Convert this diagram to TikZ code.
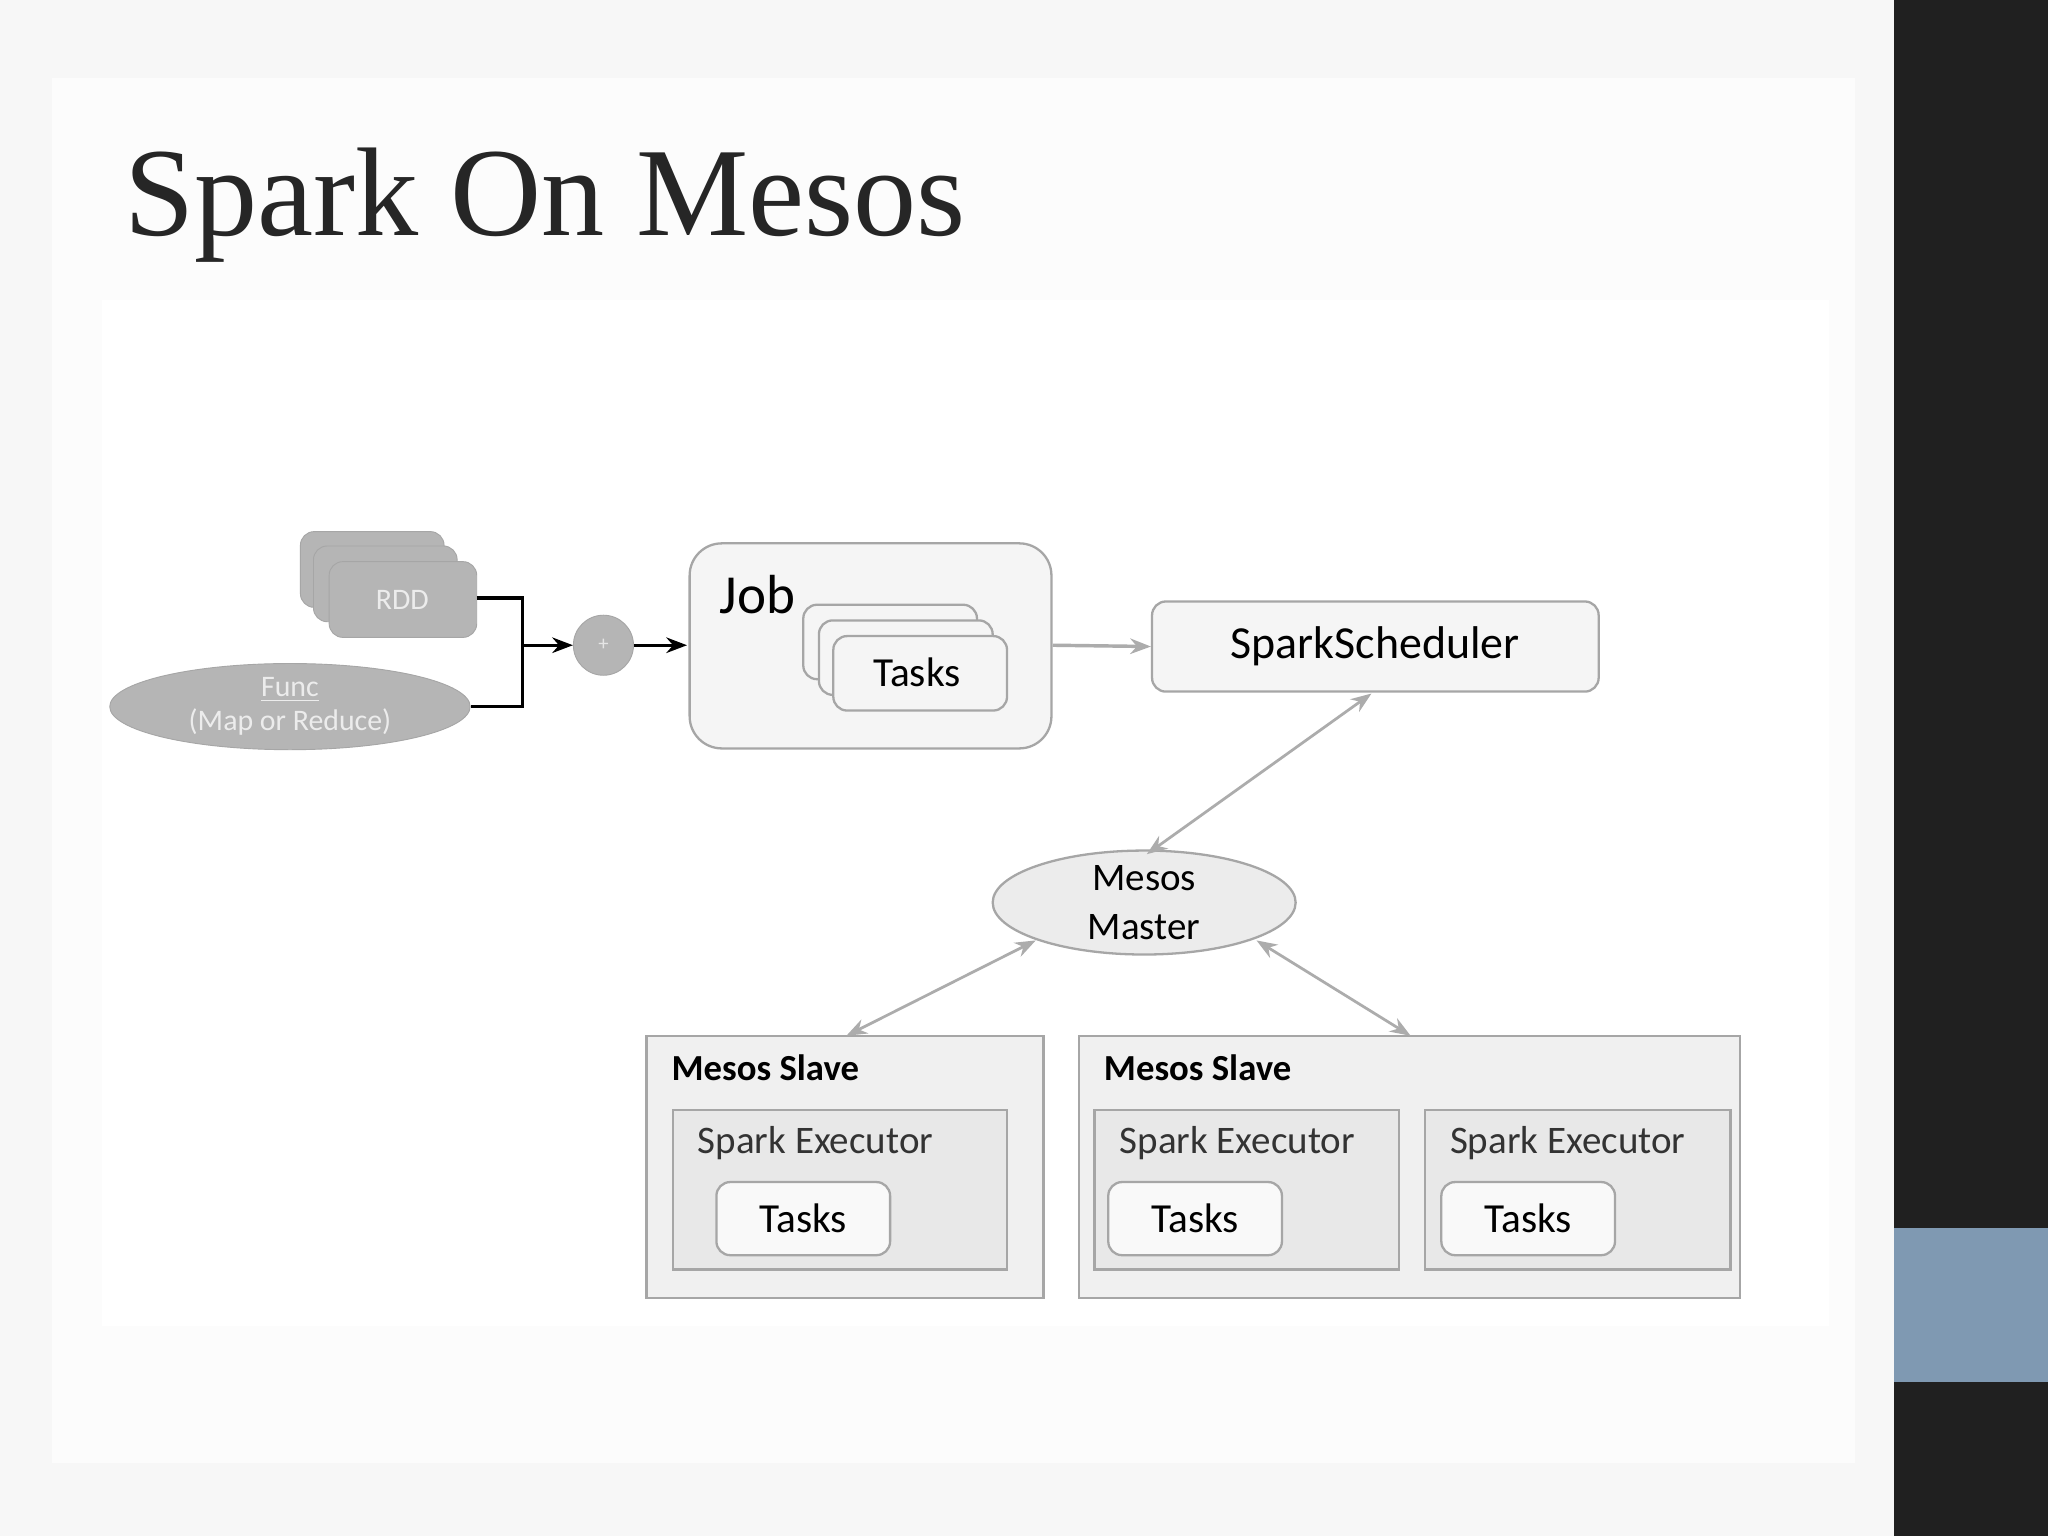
\documentclass[tikz,border=0pt]{standalone}
\usepackage{fontspec}
\setmainfont{Carlito}
\newfontfamily\titlefont{Liberation Serif}
\usetikzlibrary{shapes.geometric,arrows.meta}
\definecolor{bar}{HTML}{202020}
\definecolor{blu}{HTML}{7F99B2}
\tikzset{
  x=0.02cm,y=-0.02cm,
  box/.style={draw=gray!70,fill=gray!12,line width=1pt},
  rbox/.style={draw=gray!70,fill=gray!8,rounded corners=6pt,line width=1pt},
  dark/.style={draw=gray!70,fill=gray!58,rounded corners=6pt},
  garrow/.style={draw=gray!65,line width=1.5pt,-{Stealth[length=9pt]}},
  gdarrow/.style={draw=gray!65,line width=1.2pt,{Stealth[length=9pt]}-{Stealth[length=9pt]}},
  karrow/.style={draw=black,line width=1.5pt,-{Stealth[length=9pt]}},
}
\begin{document}
\begin{tikzpicture}
\useasboundingbox (0,0) rectangle (1568,1176);
\fill[gray!6] (0,0) rectangle (1450,1176);
\fill[gray!2] (40,60) rectangle (1420,1120);
\fill[white] (78,230) rectangle (1400,1015);
\fill[bar] (1450,0) rectangle (1568,1176);
\fill[blu] (1450,940) rectangle (1568,1058);
\node[anchor=base west,inner sep=0,font=\titlefont\fontsize{55}{60}\selectfont,text=black!85] (title) at (95,180) {Spark On Mesos};
% RDD
\draw[dark] (230,407) rectangle (340,465);
\draw[dark] (240,418) rectangle (350,476);
\draw[dark] (252,430) rectangle (365,488);
\node[font=\fontsize{13}{14}\selectfont,text=gray!15] (rdd) at (308,459) {RDD};
\coordinate (rddr) at (365,458);
\node[ellipse,draw=gray!70,fill=gray!58,inner sep=0,
  minimum width=5.52cm,minimum height=1.32cm,align=center,font=\fontsize{13}{15}\selectfont,text=gray!15] (func) at (222,541) {\underline{Func}\\(Map or Reduce)};
\node[circle,draw=gray!70,fill=gray!58,minimum size=0.92cm,inner sep=0,text=gray!20,font=\small] (plus) at (462,494) {+};
\draw[black,line width=1.5pt] (rddr) -- (400,458) -- (400,541) -- (func.east);
\draw[karrow] (400,494) -- (plus);
% Job
\draw[rbox,rounded corners=14pt] (528,416) rectangle (805,573);
\node[anchor=base west,font=\fontsize{24}{26}\selectfont] (job) at (545,470) {Job};
\draw[karrow] (plus) -- (526,494);
\draw[rbox] (615,463) rectangle (748,520);
\draw[rbox] (627,475) rectangle (760,532);
\draw[rbox] (638,487) rectangle (771,544);
\node[font=\fontsize{18}{20}\selectfont] (jtasks) at (702,515) {Tasks};
% scheduler
\node[rbox,minimum width=6.84cm,minimum height=1.38cm,font=\fontsize{20}{22}\selectfont] (sched) at (1053,495) {SparkScheduler};
\draw[garrow] (806,494) -- (sched.west);
% master
\node[ellipse,draw=gray!70,fill=gray!15,line width=1pt,minimum width=4.64cm,minimum height=1.52cm,inner sep=0,align=center,font=\fontsize{17}{21}\selectfont] (master) at (876,691) {Mesos\\Master};
\coordinate (s1) at (1050,531);
\coordinate (m1) at (878,654);
\draw[gdarrow] (s1) -- (m1);
% slaves
\draw[box] (495,793) rectangle (799,994);
\draw[box] (826,793) rectangle (1332,994);
\node[anchor=base west,font=\bfseries\fontsize{16}{18}\selectfont] (sl1) at (508,827) {Mesos Slave};
\node[anchor=base west,font=\bfseries\fontsize{16}{18}\selectfont] (sl2) at (839,827) {Mesos Slave};
\coordinate (a1) at (793,720); \coordinate (b1) at (648,793);
\coordinate (a2) at (962,720); \coordinate (b2) at (1080,793);
\draw[gdarrow] (a1) -- (b1);
\draw[gdarrow] (a2) -- (b2);
\foreach \x/\w/\n in {515/256/1,838/233/2,1091/234/3}{
  \draw[box,fill=gray!18] (\x,850) rectangle (\x+\w,972);
  \node[anchor=base west,font=\fontsize{17}{19}\selectfont,text=black!80] (se\n) at (\x+13,883) {Spark Executor};
}
\foreach \x/\n in {549/1,849/2,1104/3}{
  \node[rbox,fill=gray!5,minimum width=2.66cm,minimum height=1.12cm,font=\fontsize{18}{20}\selectfont] (t\n) at (\x+66,933) {Tasks};
}
\end{tikzpicture}
\end{document}
